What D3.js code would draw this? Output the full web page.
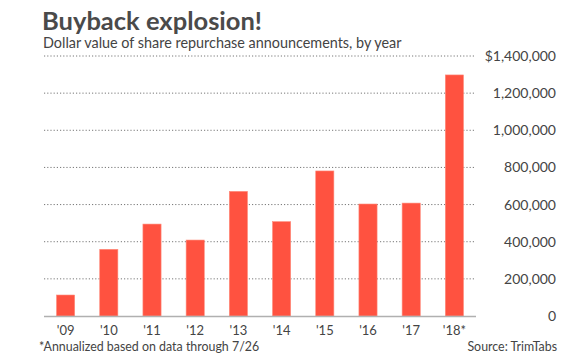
<!DOCTYPE html>
<html><head><meta charset="utf-8">
<script src="https://cdn.jsdelivr.net/npm/d3@7"></script>
<style>
html,body{margin:0;padding:0;background:#fff;}
svg{display:block;font-family:Lato, "Open Sans", sans-serif;}
</style></head>
<body>
<svg id="chart" width="579" height="359"></svg>
<script>
const years = ["'09","'10","'11","'12","'13","'14","'15","'16","'17","'18*"];
const values = [113000, 359000, 495000, 409000, 671000, 508000, 781000, 603000, 608000, 1298000];
const tickValues = [0, 200000, 400000, 600000, 800000, 1000000, 1200000, 1400000];
const tickLabels = ["0","200,000","400,000","600,000","800,000","1,000,000","1,200,000","$1,400,000"];

const svg = d3.select("#chart");
const mLeft = 44, mRight = 476, mTop = 56, mBottom = 316;

const x = d3.scaleBand().domain(years).range([mLeft, mRight]).paddingInner(0.58).paddingOuter(0.29);
const y = d3.scaleLinear().domain([0, 1400000]).range([mBottom, mTop]);

// title
svg.append("text").attr("x", 42).attr("y", 30).attr("font-size", 25.5).attr("font-weight", 700)
  .attr("fill", "#4a4a4a").text("Buyback explosion!");
svg.append("text").attr("x", 43).attr("y", 48).attr("font-size", 14.4)
  .attr("fill", "#444").text("Dollar value of share repurchase announcements, by year");

// y labels
const yAxis = d3.axisRight(y).tickValues(tickValues).tickSize(0)
  .tickFormat((d, i) => tickLabels[i]);
const ga = svg.append("g").attr("transform", `translate(556,0)`).call(yAxis);
ga.select(".domain").remove();
ga.selectAll("text").attr("text-anchor", "end").attr("x", 0).attr("dy", "0.32em")
  .attr("font-size", 14).attr("fill", "#444").attr("font-family", "Lato, sans-serif");

// grid
svg.append("g").selectAll("line").data(tickValues.filter(d => d > 0)).join("line")
  .attr("x1", mLeft).attr("x2", mRight).attr("y1", d => y(d)).attr("y2", d => y(d))
  .attr("stroke", "#777").attr("stroke-width", 1).attr("stroke-dasharray", "1.2,2");

// bars
svg.append("g").selectAll("rect").data(values).join("rect")
  .attr("x", (d, i) => x(years[i])).attr("width", x.bandwidth())
  .attr("y", d => y(d)).attr("height", d => y(0) - y(d))
  .attr("fill", "#ff5240").attr("stroke", "#ff8a7a").attr("stroke-width", 0.6);

// baseline
svg.append("line").attr("x1", mLeft).attr("x2", mRight).attr("y1", mBottom + 0.5).attr("y2", mBottom + 0.5)
  .attr("stroke", "#b0b0b0").attr("stroke-width", 1.6);

// x axis
const xAxis = d3.axisBottom(x).tickSize(0);
const gx = svg.append("g").attr("transform", `translate(0,${mBottom})`).call(xAxis);
gx.select(".domain").remove();
gx.selectAll("text").attr("font-size", 13).attr("fill", "#444").attr("dy", "1.2em")
  .attr("font-family", "Lato, sans-serif");

// footer
svg.append("text").attr("x", 39).attr("y", 351).attr("font-size", 12.4).attr("fill", "#444")
  .text("*Annualized based on data through 7/26");
svg.append("text").attr("x", 557).attr("y", 351).attr("font-size", 12.4).attr("fill", "#444")
  .attr("text-anchor", "end").text("Source: TrimTabs");
</script>
</body></html>
